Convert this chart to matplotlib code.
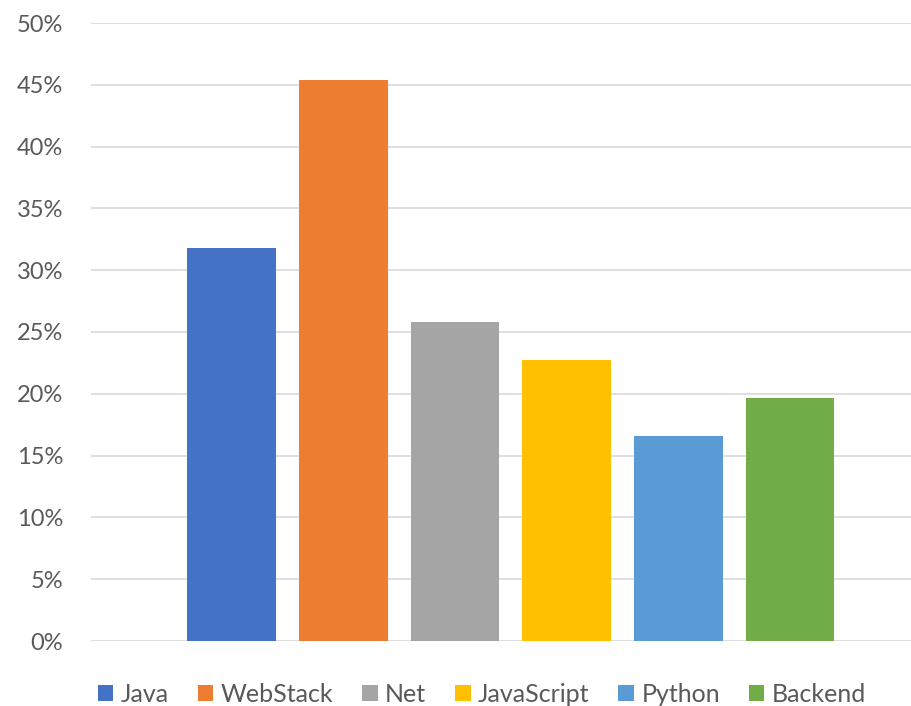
import matplotlib
matplotlib.use("Agg")
import matplotlib.pyplot as plt
from matplotlib.patches import Patch
from matplotlib.ticker import FuncFormatter, MultipleLocator

# Share of respondents per technology stack
series = ["Java", "WebStack", "Net", "JavaScript", "Python", "Backend"]
values = [31.8, 45.4, 25.8, 22.7, 16.6, 19.7]  # percent
colors = ["#4472C4", "#ED7D31", "#A5A5A5", "#FFC000", "#5B9BD5", "#70AD47"]

plt.rcParams["font.family"] = ["Lato", "DejaVu Sans"]
text_color = "#595959"

W, H, DPI = 912, 706, 100
fig = plt.figure(figsize=(W / DPI, H / DPI), dpi=DPI)
fig.patch.set_facecolor("white")

# Plot area in pixel terms (left, bottom, width, height)
left_px, top_px, bottom_px = 91, 23, 641
ax = fig.add_axes([left_px / W, (H - bottom_px) / H, (W - left_px) / W, (bottom_px - top_px) / H])

positions = list(range(len(series)))
ax.bar(positions, [v / 100 for v in values], width=0.795, color=colors, zorder=3)

ax.set_ylim(0, 0.5)
ax.set_xlim(-1.258, 6.092)
ax.yaxis.set_major_locator(MultipleLocator(0.05))
ax.yaxis.set_major_formatter(FuncFormatter(lambda v, _: f"{v * 100:.0f}%"))
ax.set_xticks([])
ax.grid(axis="y", color="#D9D9D9", linewidth=1.2, zorder=0)
ax.tick_params(axis="y", length=0, pad=20, labelsize=17, labelcolor=text_color)
for s in ax.spines.values():
    s.set_visible(False)

handles = [Patch(facecolor=c, edgecolor="none", label=n) for n, c in zip(series, colors)]
leg = fig.legend(
    handles=handles,
    loc="center",
    bbox_to_anchor=(482 / W, 1 - 694 / H),
    ncol=6,
    frameon=False,
    fontsize=18,
    handlelength=0.62,
    handleheight=0.62,
    handletextpad=0.3,
    columnspacing=1.15,
    borderaxespad=0,
)
for t in leg.get_texts():
    t.set_color(text_color)

fig.savefig("out.png", dpi=DPI, facecolor="white")
